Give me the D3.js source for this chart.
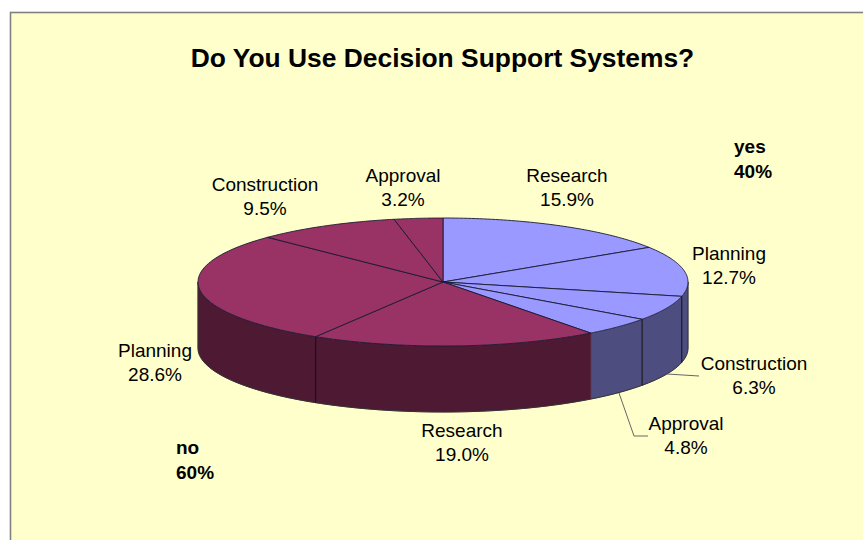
<!DOCTYPE html>
<html><head><meta charset="utf-8">
<script src="https://cdn.jsdelivr.net/npm/d3@7/dist/d3.min.js"></script>
<style>html,body{margin:0;padding:0;background:#fff}svg{display:block}text{font-family:"Liberation Sans",Arial,sans-serif;fill:#000}</style>
</head><body><svg id="c" width="863" height="540"></svg>
<script>
const title = "Do You Use Decision Support Systems?";
const categories = ["Research","Planning","Construction","Approval","Research","Planning","Construction","Approval"];
const groups = ["yes","yes","yes","yes","no","no","no","no"];
const values = [15.9,12.7,6.3,4.8,19.0,28.6,9.5,3.2];
const groupNames = ["yes","no"];
const groupTotals = [40,60];
const labelCentres = [[567,182],[729,260],[754,370],[686,430],[462,437],[155,357],[265,191],[403,182]];
const groupLabelPos = [[734,153],[176,454]];
const leaders = {2:[[667,374],[699,376]],3:[[619,393],[634,436],[648,436]]};

const svg = d3.select("#c");
svg.append("rect").attr("x",10.5).attr("y",12.5).attr("width",880).attr("height",560)
  .attr("fill","#FFFFCC").attr("stroke","#808080").attr("stroke-width",1.6);

const cx=443, cy=282, rx=245, ry=64, depth=66;
const X=d3.scaleLinear().domain([-1,1]).range([cx-rx,cx+rx]);
const Y=d3.scaleLinear().domain([-1,1]).range([cy-ry,cy+ry]);
const topColor=d3.scaleOrdinal().domain(groupNames).range(["#9999FF","#993366"]);
const sideColor=d3.scaleOrdinal().domain(groupNames).range(["#4D4D80","#4D1933"]);
const pie=d3.pie().sort(null).value(d=>d.v);
const arcs=pie(values.map((v,i)=>({v,g:groups[i],c:categories[i]})));
const px=a=>X(Math.sin(a)), py=a=>Y(-Math.cos(a));
const line=d3.line();
const samples=(a0,a1)=>d3.range(0,61).map(k=>a0+(a1-a0)*k/60);

const sideG=svg.append("g");
arcs.forEach(d=>{
  const a0=Math.max(d.startAngle,Math.PI/2), a1=Math.min(d.endAngle,Math.PI*1.5);
  if(a1<=a0) return;
  const s=samples(a0,a1);
  const pts=s.map(a=>[px(a),py(a)]).concat(s.slice().reverse().map(a=>[px(a),py(a)+depth]));
  sideG.append("path").attr("d",line(pts)+"Z").attr("fill",sideColor(d.data.g))
    .attr("stroke",sideColor(d.data.g)).attr("stroke-width",0.6);
});
const frontS=samples(Math.PI/2,Math.PI*1.5);
sideG.append("path").attr("d",line(frontS.map(a=>[px(a),py(a)+depth]))).attr("fill","none").attr("stroke","#333").attr("stroke-width",1);
[Math.PI/2,Math.PI*1.5].forEach(a=>sideG.append("line").attr("x1",px(a)).attr("x2",px(a)).attr("y1",py(a)).attr("y2",py(a)+depth).attr("stroke","#333"));
arcs.forEach((d,i)=>{
  const a=d.endAngle;
  if(a>Math.PI/2&&a<Math.PI*1.5&&i!==3)
    sideG.append("line").attr("x1",px(a)).attr("x2",px(a)).attr("y1",py(a)).attr("y2",py(a)+depth).attr("stroke","#111").attr("stroke-width",1);
});
svg.append("g").selectAll("path").data(arcs).join("path")
  .attr("d",d=>line([[cx,cy]].concat(samples(d.startAngle,d.endAngle).map(a=>[px(a),py(a)])))+"Z")
  .attr("fill",d=>topColor(d.data.g)).attr("stroke","#1a1a33").attr("stroke-width",0.9).attr("stroke-linejoin","round");

Object.values(leaders).forEach(p=>svg.append("path").attr("d",line(p)).attr("fill","none").attr("stroke","#666").attr("stroke-width",1));

const fmt=d3.format(".1f");
arcs.forEach((d,i)=>{
  const [x,y]=labelCentres[i];
  svg.append("text").attr("x",x).attr("y",y).attr("text-anchor","middle").attr("font-size",19).text(d.data.c);
  svg.append("text").attr("x",x).attr("y",y+24).attr("text-anchor","middle").attr("font-size",19).text(fmt(d.data.v)+"%");
});
groupNames.forEach((g,i)=>{
  const [x,y]=groupLabelPos[i];
  svg.append("text").attr("x",x).attr("y",y).attr("font-size",19).attr("font-weight","bold").text(g);
  svg.append("text").attr("x",x).attr("y",y+25).attr("font-size",19).attr("font-weight","bold").text(groupTotals[i]+"%");
});
svg.append("text").attr("x",442.5).attr("y",67).attr("text-anchor","middle").attr("font-size",26.4).attr("font-weight","bold").text(title);
</script></body></html>
